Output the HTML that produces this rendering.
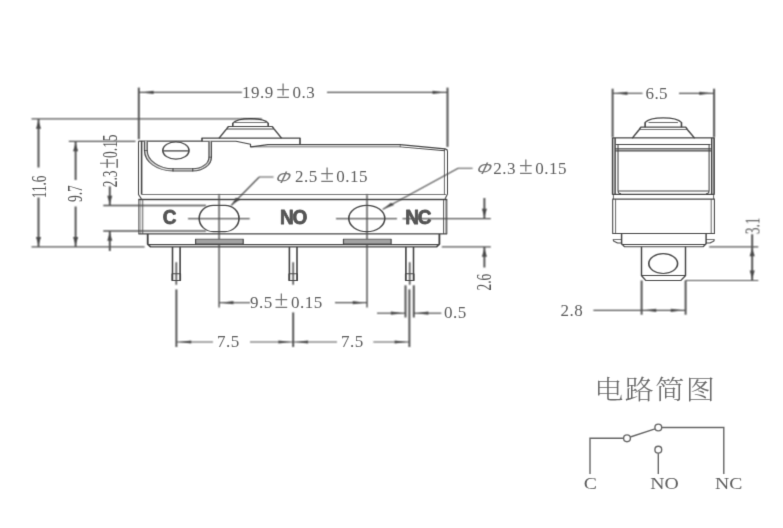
<!DOCTYPE html>
<html lang="zh">
<head>
<meta charset="utf-8">
<title>微动开关 外形尺寸 / 电路简图</title>
<style>
html,body{margin:0;padding:0;background:#fff;}
body{width:783px;height:528px;overflow:hidden;}
svg{display:block;}
</style>
</head>
<body>
<svg width="783" height="528" viewBox="0 0 783 528">
<defs>
<filter id="soft" x="0" y="0" width="783" height="528" filterUnits="userSpaceOnUse"><feConvolveMatrix order="3" kernelMatrix="1 2 1 2 4 2 1 2 1" divisor="16" edgeMode="none" preserveAlpha="false"/></filter>
<filter id="soft3" x="0" y="0" width="783" height="528" filterUnits="userSpaceOnUse"><feConvolveMatrix order="3" kernelMatrix="0 1 0 1 5 1 0 1 0" divisor="9" edgeMode="none" preserveAlpha="false"/></filter>
<filter id="soft2" x="0" y="0" width="783" height="528" filterUnits="userSpaceOnUse"><feConvolveMatrix order="3" kernelMatrix="0 1 0 1 6 1 0 1 0" divisor="10" edgeMode="none" preserveAlpha="false"/></filter>
</defs>
<rect width="783" height="528" fill="#fff"/>
<g filter="url(#soft)">
<g transform="scale(1.6,1)" stroke-linecap="butt" stroke-linejoin="round">
<line x1="86.75" y1="87.6" x2="86.75" y2="139.2" stroke="#525252" stroke-width="1.22"/>
<line x1="279.69" y1="87.6" x2="279.69" y2="146.9" stroke="#525252" stroke-width="1.22"/>
<line x1="86.88" y1="92.4" x2="151.25" y2="92.4" stroke="#525252" stroke-width="1.2"/>
<line x1="204.38" y1="92.4" x2="279.38" y2="92.4" stroke="#525252" stroke-width="1.2"/>
<polygon points="88.12,92.4 96.03,90.8 96.03,94" fill="#4a4a4a"/>
<polygon points="278.25,92.4 270.35,94 270.35,90.8" fill="#4a4a4a"/>
<line x1="19.69" y1="118.8" x2="163.75" y2="118.8" stroke="#525252" stroke-width="1.2"/>
<line x1="19.69" y1="246.9" x2="90.37" y2="246.9" stroke="#525252" stroke-width="1.2"/>
<line x1="24.06" y1="119" x2="24.06" y2="167.5" stroke="#525252" stroke-width="1.22"/>
<line x1="24.06" y1="197.5" x2="24.06" y2="247" stroke="#525252" stroke-width="1.22"/>
<polygon points="24.06,120.5 25.66,128.7 22.46,128.7" fill="#4a4a4a"/>
<polygon points="24.06,245.3 22.46,237.1 25.66,237.1" fill="#4a4a4a"/>
<line x1="43" y1="141.3" x2="84.69" y2="141.3" stroke="#525252" stroke-width="1.3"/>
<line x1="47.25" y1="141.3" x2="47.25" y2="180" stroke="#525252" stroke-width="1.22"/>
<line x1="47.25" y1="206.5" x2="47.25" y2="247" stroke="#525252" stroke-width="1.22"/>
<polygon points="47.25,143 48.85,151.2 45.65,151.2" fill="#4a4a4a"/>
<polygon points="47.25,245.3 45.65,237.1 48.85,237.1" fill="#4a4a4a"/>
<line x1="64.56" y1="205.5" x2="128.75" y2="205.5" stroke="#525252" stroke-width="1.3"/>
<line x1="64.56" y1="231" x2="128.75" y2="231" stroke="#525252" stroke-width="1.3"/>
<line x1="68.62" y1="186.4" x2="68.62" y2="205" stroke="#525252" stroke-width="1.22"/>
<line x1="68.62" y1="231" x2="68.62" y2="251" stroke="#525252" stroke-width="1.22"/>
<polygon points="68.62,204 67.03,195.8 70.22,195.8" fill="#4a4a4a"/>
<polygon points="68.62,232.5 70.22,240.7 67.03,240.7" fill="#4a4a4a"/>
<path d="M170.94,176.9 L162.06,176.9 L144.5,205.6" stroke="#525252" stroke-width="1.0" fill="none" />
<polygon points="144.5,205.5 147.38,197.66 150.12,199.32" fill="#4a4a4a"/>
<path d="M295.38,168.3 L286.19,168.3 L239.19,209.3" stroke="#525252" stroke-width="1.0" fill="none" />
<polygon points="239.19,209.3 244.3,202.69 246.41,205.1" fill="#4a4a4a"/>
<line x1="136.94" y1="194.5" x2="136.94" y2="307.6" stroke="#484848" stroke-width="0.85"/>
<line x1="229.38" y1="194.5" x2="229.38" y2="307.6" stroke="#484848" stroke-width="0.85"/>
<line x1="117.5" y1="218.6" x2="156.06" y2="218.6" stroke="#525252" stroke-width="1.2"/>
<line x1="210" y1="218.6" x2="248.12" y2="218.6" stroke="#525252" stroke-width="1.2"/>
<line x1="251.56" y1="218.6" x2="306.75" y2="218.6" stroke="#525252" stroke-width="1.2"/>
<line x1="276.12" y1="246.9" x2="306.75" y2="246.9" stroke="#525252" stroke-width="1.2"/>
<line x1="302.75" y1="198" x2="302.75" y2="218" stroke="#525252" stroke-width="1.22"/>
<line x1="302.75" y1="247" x2="302.75" y2="267.5" stroke="#525252" stroke-width="1.22"/>
<polygon points="302.75,217 301.15,208.8 304.35,208.8" fill="#4a4a4a"/>
<polygon points="302.75,248.5 304.35,256.7 301.15,256.7" fill="#4a4a4a"/>
<line x1="136.88" y1="302.7" x2="156.25" y2="302.7" stroke="#525252" stroke-width="1.2"/>
<line x1="209.38" y1="302.7" x2="229.38" y2="302.7" stroke="#525252" stroke-width="1.2"/>
<polygon points="138,302.7 145.9,301.1 145.9,304.3" fill="#4a4a4a"/>
<polygon points="228.37,302.7 220.47,304.3 220.47,301.1" fill="#4a4a4a"/>
<line x1="110.25" y1="289.4" x2="110.25" y2="347" stroke="#525252" stroke-width="1.22"/>
<line x1="183.25" y1="312.4" x2="183.25" y2="347" stroke="#525252" stroke-width="1.22"/>
<line x1="255.87" y1="289.4" x2="255.87" y2="347" stroke="#525252" stroke-width="1.22"/>
<line x1="110.19" y1="342" x2="133.12" y2="342" stroke="#525252" stroke-width="1.2"/>
<line x1="156.25" y1="342" x2="183.12" y2="342" stroke="#525252" stroke-width="1.2"/>
<line x1="183.25" y1="342" x2="210.62" y2="342" stroke="#525252" stroke-width="1.2"/>
<line x1="233.31" y1="342" x2="255.87" y2="342" stroke="#525252" stroke-width="1.2"/>
<polygon points="111.62,342 119.52,340.4 119.52,343.6" fill="#4a4a4a"/>
<polygon points="181.88,342 173.97,343.6 173.97,340.4" fill="#4a4a4a"/>
<polygon points="184.62,342 192.52,340.4 192.52,343.6" fill="#4a4a4a"/>
<polygon points="254.56,342 246.66,343.6 246.66,340.4" fill="#4a4a4a"/>
<line x1="253.44" y1="285.3" x2="253.44" y2="317.5" stroke="#525252" stroke-width="1.22"/>
<line x1="258.62" y1="285.3" x2="258.62" y2="317.5" stroke="#525252" stroke-width="1.22"/>
<line x1="235.62" y1="313.2" x2="253.44" y2="313.2" stroke="#525252" stroke-width="1.2"/>
<line x1="258.62" y1="313.2" x2="275.87" y2="313.2" stroke="#525252" stroke-width="1.2"/>
<polygon points="252.19,313.2 244.29,314.8 244.29,311.6" fill="#4a4a4a"/>
<polygon points="259.88,313.2 267.77,311.6 267.77,314.8" fill="#4a4a4a"/>
<line x1="110.19" y1="262.2" x2="110.19" y2="284.8" stroke="#525252" stroke-width="1.0"/>
<line x1="183.25" y1="262.2" x2="183.25" y2="284.8" stroke="#525252" stroke-width="1.0"/>
<line x1="256.06" y1="262.2" x2="256.06" y2="284.8" stroke="#525252" stroke-width="1.0"/>
<line x1="382.88" y1="88.7" x2="382.88" y2="137.4" stroke="#525252" stroke-width="1.22"/>
<line x1="446.31" y1="88.7" x2="446.31" y2="137.4" stroke="#525252" stroke-width="1.22"/>
<line x1="382.81" y1="93.3" x2="401.56" y2="93.3" stroke="#525252" stroke-width="1.2"/>
<line x1="424.38" y1="93.3" x2="446.25" y2="93.3" stroke="#525252" stroke-width="1.2"/>
<polygon points="384.25,93.3 392.15,91.7 392.15,94.9" fill="#4a4a4a"/>
<polygon points="444.94,93.3 437.04,94.9 437.04,91.7" fill="#4a4a4a"/>
<line x1="443.25" y1="246.8" x2="473.94" y2="246.8" stroke="#525252" stroke-width="1.2"/>
<line x1="428.44" y1="280.5" x2="473.94" y2="280.5" stroke="#525252" stroke-width="1.2"/>
<line x1="470.12" y1="234.3" x2="470.12" y2="280.3" stroke="#525252" stroke-width="1.22"/>
<polygon points="470.12,248 471.73,256.2 468.52,256.2" fill="#4a4a4a"/>
<polygon points="470.12,278.8 468.52,270.6 471.73,270.6" fill="#4a4a4a"/>
<line x1="401" y1="280.5" x2="401" y2="314.7" stroke="#525252" stroke-width="1.22"/>
<line x1="428.5" y1="280.5" x2="428.5" y2="314.7" stroke="#525252" stroke-width="1.22"/>
<line x1="370.87" y1="310.3" x2="428.5" y2="310.3" stroke="#525252" stroke-width="1.2"/>
<polygon points="402.25,310.3 410.15,308.7 410.15,311.9" fill="#4a4a4a"/>
<polygon points="427.12,310.3 419.22,311.9 419.22,308.7" fill="#4a4a4a"/>
</g>
</g>
<g filter="url(#soft3)">
<g transform="scale(1.35,1)" stroke-linecap="butt" stroke-linejoin="round">
<path d="M104.81,199 L102.59,194.5 L102.59,141.2" stroke="#474747" stroke-width="0.8" fill="none" />
<path d="M102.59,141.2 L149.63,141.2" stroke="#474747" stroke-width="1.2" fill="none" />
<path d="M104.89,141 L104.89,194.4" stroke="#474747" stroke-width="1.2" fill="none" />
<path d="M104.81,194.4 L330.37,194.4" stroke="#474747" stroke-width="0.85" fill="none" />
<path d="M149.63,141.2 L149.63,138.1 L222.22,138.1 L222.22,144.6" stroke="#474747" stroke-width="1.2" fill="none" />
<path d="M149.63,141.2 L174.81,141.2 L185.56,144.2 L185.56,146.9 L296.3,146.9 L329.63,150.7" stroke="#474747" stroke-width="0.9" fill="none" />
<path d="M185.56,146.9 L198.52,144.6 L296.3,144.6 L329.63,148.8 L331.48,150.2" stroke="#474747" stroke-width="1.2" fill="none" />
<line x1="296.44" y1="144.4" x2="296.44" y2="147.1" stroke="#474747" stroke-width="0.6"/>
<path d="M331.48,150.2 L331.48,194 L329.63,199" stroke="#474747" stroke-width="0.75" fill="none" />
<path d="M329.19,149 L329.19,194.4" stroke="#474747" stroke-width="0.7" fill="none" />
<path d="M108.07,141.3 L108.07,150.5 A20.07,19.4 0 0 0 128.15,169.9 L142.74,169.9 A12.96,12.7 0 0 0 155.7,157.2 L155.7,141.3" stroke="#dcdcdc" stroke-width="2.2" fill="none" />
<path d="M107.04,141.3 L107.04,150.5 A21.11,20.5 0 0 0 128.15,171 L142.74,171 A13.85,13.8 0 0 0 156.59,157.2 L156.59,141.3" stroke="#474747" stroke-width="0.95" fill="none" />
<path d="M109.04,141.3 L109.04,150.5 A19.11,18.3 0 0 0 128.15,168.8 L142.74,168.8 A12.07,11.6 0 0 0 154.81,157.2 L154.81,141.3" stroke="#474747" stroke-width="0.9" fill="none" />
<line x1="128.15" y1="168.6" x2="128.15" y2="171.2" stroke="#474747" stroke-width="0.9"/>
<line x1="142.74" y1="168.6" x2="142.74" y2="171.2" stroke="#474747" stroke-width="0.9"/>
<line x1="106.89" y1="150.5" x2="109.19" y2="150.5" stroke="#474747" stroke-width="0.7"/>
<line x1="154.67" y1="157.2" x2="156.74" y2="157.2" stroke="#474747" stroke-width="0.7"/>
<ellipse cx="130.3" cy="150.5" rx="9.7" ry="8.7" fill="none" stroke="#474747" stroke-width="1.2"/>
<line x1="120.89" y1="150.9" x2="139.7" y2="150.9" stroke="#474747" stroke-width="1.3"/>
<path d="M172.44,126.4 L172.44,123.2 C175.11,119 180.74,118.6 185.56,118.6 C190.37,118.6 196,119 198.67,123.2 L198.67,126.4" stroke="#474747" stroke-width="1.2" fill="none" />
<path d="M174.07,122.7 L197.04,122.7" stroke="#474747" stroke-width="0.8" fill="none" />
<path d="M162.22,138.2 L167.78,129 L169.19,126.5 L201.63,126.5 L203.04,129 L208.59,138.2" stroke="#474747" stroke-width="1.2" fill="none" />
<path d="M168,129 L202.81,129" stroke="#474747" stroke-width="0.9" fill="none" />
<line x1="102.52" y1="199.6" x2="331.26" y2="199.6" stroke="#474747" stroke-width="1.5"/>
<line x1="102.52" y1="233.8" x2="331.26" y2="233.8" stroke="#474747" stroke-width="1.3"/>
<line x1="102.89" y1="199.4" x2="102.89" y2="233.8" stroke="#474747" stroke-width="0.8"/>
<line x1="104.3" y1="199.4" x2="104.3" y2="233.8" stroke="#474747" stroke-width="0.45"/>
<line x1="105.78" y1="199.4" x2="105.78" y2="233.8" stroke="#474747" stroke-width="0.7"/>
<line x1="328.52" y1="199.4" x2="328.52" y2="233.8" stroke="#474747" stroke-width="0.7"/>
<line x1="329.85" y1="199.4" x2="329.85" y2="233.8" stroke="#474747" stroke-width="0.45"/>
<line x1="330.96" y1="199.4" x2="330.96" y2="233.8" stroke="#474747" stroke-width="0.8"/>
<path d="M109.41,233.9 L109.41,244 L111.48,246.9 L323.41,246.9 L325.48,244 L325.48,233.9" stroke="#474747" stroke-width="1.4" fill="none" />
<path d="M109.41,244.6 L325.48,244.6" stroke="#474747" stroke-width="1.3" fill="none" />
<rect x="144.89" y="239.1" width="35.26" height="4.9" fill="#a2a2a2" stroke="#474747" stroke-width="0.9"/>
<rect x="254.44" y="239.1" width="35.26" height="4.9" fill="#a2a2a2" stroke="#474747" stroke-width="0.9"/>
<rect x="147.56" y="205.3" width="29.48" height="26.3" rx="10.37" ry="13.15" fill="none" stroke="#474747" stroke-width="1.2"/>
<ellipse cx="271.7" cy="218.5" rx="13.33" ry="13.2" fill="none" stroke="#474747" stroke-width="1.2"/>
<path d="M127.78,246.9 L127.78,280.5 L133.41,280.5 L133.41,246.9" stroke="#474747" stroke-width="1.2" fill="none" />
<path d="M127.48,273.7 L133.7,273.7 L133.7,280.5 L127.48,280.5 Z" stroke="#474747" stroke-width="0.9" fill="none" />
<path d="M214.37,246.9 L214.37,280.5 L220,280.5 L220,246.9" stroke="#474747" stroke-width="1.2" fill="none" />
<path d="M214.07,273.7 L220.3,273.7 L220.3,280.5 L214.07,280.5 Z" stroke="#474747" stroke-width="0.9" fill="none" />
<path d="M300.67,246.9 L300.67,280.5 L306.3,280.5 L306.3,246.9" stroke="#474747" stroke-width="1.2" fill="none" />
<path d="M300.37,273.7 L306.59,273.7 L306.59,280.5 L300.37,280.5 Z" stroke="#474747" stroke-width="0.9" fill="none" />
<path d="M477.85,127.2 L477.85,122.5 C480.74,118.3 486.67,117.9 491.33,117.9 C496,117.9 501.93,118.3 504.81,122.5 L504.81,127.2" stroke="#474747" stroke-width="1.2" fill="none" />
<path d="M480.37,122.4 L502.22,122.4" stroke="#474747" stroke-width="0.8" fill="none" />
<path d="M468.3,138.2 L473.48,129.6 L474.67,127.2 L508,127.2 L509.19,129.6 L514.59,138.2" stroke="#474747" stroke-width="1.2" fill="none" />
<path d="M473.63,129.6 L509.04,129.6" stroke="#474747" stroke-width="0.9" fill="none" />
<path d="M453.78,137.8 L528.96,137.8 L528.96,194.3 L453.78,194.3 Z" stroke="#474747" stroke-width="1.2" fill="none" />
<path d="M455.63,138 L455.63,194.3" stroke="#474747" stroke-width="1.1" fill="none" />
<path d="M527.19,138 L527.19,194.3" stroke="#474747" stroke-width="1.1" fill="none" />
<path d="M456.3,144.5 L526.3,144.5" stroke="#474747" stroke-width="0.9" fill="none" />
<path d="M457.78,144.5 L457.78,191 Q457.78,193.7 460,193.7" stroke="#474747" stroke-width="0.8" fill="none" />
<path d="M525.26,144.5 L525.26,191 Q525.26,193.7 523.04,193.7" stroke="#474747" stroke-width="0.8" fill="none" />
<path d="M455.56,148.8 L527.26,148.8" stroke="#474747" stroke-width="1.2" fill="none" />
<path d="M455.56,150.8 L527.26,150.8" stroke="#474747" stroke-width="1.2" fill="none" />
<path d="M458.07,191 L525.04,191" stroke="#474747" stroke-width="0.9" fill="none" />
<line x1="454.37" y1="194.3" x2="454.37" y2="199.2" stroke="#474747" stroke-width="0.7"/>
<line x1="528.59" y1="194.3" x2="528.59" y2="199.2" stroke="#474747" stroke-width="0.7"/>
<line x1="453.56" y1="199.2" x2="529.56" y2="199.2" stroke="#474747" stroke-width="1.3"/>
<line x1="453.56" y1="233.5" x2="529.56" y2="233.5" stroke="#474747" stroke-width="1.2"/>
<line x1="453.85" y1="199.2" x2="453.85" y2="233.5" stroke="#474747" stroke-width="0.8"/>
<line x1="456" y1="199.2" x2="456" y2="233.5" stroke="#474747" stroke-width="0.7"/>
<line x1="526.81" y1="199.2" x2="526.81" y2="233.5" stroke="#474747" stroke-width="0.7"/>
<line x1="529.19" y1="199.2" x2="529.19" y2="233.5" stroke="#474747" stroke-width="0.8"/>
<path d="M460.44,233.5 L460.44,243.6 L462.59,246.8 L520.89,246.8 L523.04,243.6 L523.04,233.5" stroke="#474747" stroke-width="1.1" fill="none" />
<path d="M460.44,244.5 L523.04,244.5" stroke="#474747" stroke-width="1.0" fill="none" />
<path d="M460.44,239.6 L454.22,239.6 L454.67,241.2 L457.41,243 L460.44,243" stroke="#474747" stroke-width="0.9" fill="none" />
<path d="M523.04,239.6 L529.11,239.6 L528.67,241.2 L525.93,243 L523.04,243" stroke="#474747" stroke-width="0.9" fill="none" />
<path d="M475.19,246.8 L475.19,275.6 L478.37,280.5 L504.3,280.5 L507.78,275.6 L507.78,246.8" stroke="#474747" stroke-width="1.1" fill="none" />
<path d="M475.19,275.6 L507.78,275.6" stroke="#474747" stroke-width="1.0" fill="none" />
<ellipse cx="491.26" cy="263.6" rx="10.67" ry="9.9" fill="none" stroke="#474747" stroke-width="1.2"/>
</g>
</g>
<g filter="url(#soft3)" fill="none" stroke="#666" stroke-width="1.4">
<path d="M590,474 L590,438.3 L623.4,438.3"/>
<path d="M630.3,437 L655,428.8"/>
<path d="M661.8,427.5 L723.8,427.5 L723.8,474"/>
<path d="M658.3,453.2 L658.3,474"/>
<circle cx="627" cy="438.3" r="3.4"/>
<circle cx="658.3" cy="427.5" r="3.4"/>
<circle cx="658.3" cy="449.7" r="3.4"/>
</g>
<g filter="url(#soft2)">
<text y="98.2" font-family="'Liberation Serif','Noto Serif CJK SC',serif" font-size="17" fill="#5e5e5e" letter-spacing="0.5"><tspan x="242" dy="0">19.9</tspan><tspan x="276.3" dy="0" font-size="25" fill="#777" letter-spacing="0">±</tspan><tspan x="292.6" dy="0">0.3</tspan></text>
<text transform="translate(46.3,198.2) rotate(-90) scale(0.6,1)" font-family="'Liberation Serif','Noto Serif CJK SC',serif" font-size="22" fill="#555">11.6</text>
<text transform="translate(82,202) rotate(-90) scale(0.61,1)" font-family="'Liberation Serif','Noto Serif CJK SC',serif" font-size="22" fill="#555">9.7</text>
<text y="0" font-family="'Liberation Serif','Noto Serif CJK SC',serif" font-size="22" fill="#555" letter-spacing="0" transform="translate(117.2,187.2) rotate(-90) scale(0.61,1)"><tspan x="0" dy="0">2.3</tspan><tspan x="30.5" dy="0.8" font-size="31" fill="#777" letter-spacing="0">±</tspan><tspan x="48" dy="-0.8">0.15</tspan></text>
<text transform="translate(273.8,182.8) skewX(-25) scale(1.12,1)" font-family="'Liberation Sans','Noto Sans CJK SC',sans-serif" font-weight="normal" font-size="16.5" fill="#777">Φ</text>
<text y="181.8" font-family="'Liberation Serif','Noto Serif CJK SC',serif" font-size="17" fill="#5e5e5e" letter-spacing="0.5"><tspan x="295" dy="0">2.5</tspan><tspan x="320.2" dy="0" font-size="25" fill="#777" letter-spacing="0">±</tspan><tspan x="336.3" dy="0">0.15</tspan></text>
<text transform="translate(474.8,174.1) skewX(-25) scale(1.12,1)" font-family="'Liberation Sans','Noto Sans CJK SC',sans-serif" font-weight="normal" font-size="16.5" fill="#777">Φ</text>
<text y="173.5" font-family="'Liberation Serif','Noto Serif CJK SC',serif" font-size="17" fill="#5e5e5e" letter-spacing="0.5"><tspan x="493.2" dy="0">2.3</tspan><tspan x="519" dy="0" font-size="25" fill="#777" letter-spacing="0">±</tspan><tspan x="535.3" dy="0">0.15</tspan></text>
<text transform="translate(490.6,290.5) rotate(-90) scale(0.61,1)" font-family="'Liberation Serif','Noto Serif CJK SC',serif" font-size="22" fill="#555">2.6</text>
<text y="307.8" font-family="'Liberation Serif','Noto Serif CJK SC',serif" font-size="17" fill="#5e5e5e" letter-spacing="0.5"><tspan x="250" dy="0">9.5</tspan><tspan x="274.4" dy="0" font-size="25" fill="#777" letter-spacing="0">±</tspan><tspan x="291" dy="0">0.15</tspan></text>
<text x="217" y="347.4" font-family="'Liberation Serif','Noto Serif CJK SC',serif" font-size="17" font-weight="normal" text-anchor="start" fill="#5e5e5e" letter-spacing="0.5" >7.5</text>
<text x="341" y="347.4" font-family="'Liberation Serif','Noto Serif CJK SC',serif" font-size="17" font-weight="normal" text-anchor="start" fill="#5e5e5e" letter-spacing="0.5" >7.5</text>
<text x="444" y="318" font-family="'Liberation Serif','Noto Serif CJK SC',serif" font-size="17" font-weight="normal" text-anchor="start" fill="#5e5e5e" letter-spacing="0.5" >0.5</text>
<text transform="translate(169.6,223.8) scale(0.97,1)" font-family="'Liberation Sans','Noto Sans CJK SC',sans-serif" font-size="19.6" font-weight="bold" text-anchor="middle" fill="#555" stroke="#555" stroke-width="0.8" stroke-linejoin="round">C</text>
<text transform="translate(293.1,223.8) scale(0.97,1)" font-family="'Liberation Sans','Noto Sans CJK SC',sans-serif" font-size="19.6" font-weight="bold" text-anchor="middle" fill="#555" letter-spacing="-1.3" stroke="#555" stroke-width="0.8" stroke-linejoin="round">NO</text>
<text transform="translate(417.8,223.8) scale(0.97,1)" font-family="'Liberation Sans','Noto Sans CJK SC',sans-serif" font-size="19.6" font-weight="bold" text-anchor="middle" fill="#555" letter-spacing="-1.3" stroke="#555" stroke-width="0.8" stroke-linejoin="round">NC</text>
<text x="645.6" y="98.6" font-family="'Liberation Serif','Noto Serif CJK SC',serif" font-size="17" font-weight="normal" text-anchor="start" fill="#5e5e5e" letter-spacing="0.3" >6.5</text>
<text transform="translate(759.5,234.3) rotate(-90) scale(0.61,1)" font-family="'Liberation Serif','Noto Serif CJK SC',serif" font-size="22" fill="#555">3.1</text>
<text x="560.5" y="315.6" font-family="'Liberation Serif','Noto Serif CJK SC',serif" font-size="17" font-weight="normal" text-anchor="start" fill="#5e5e5e" letter-spacing="0.5" >2.8</text>
<text transform="translate(594.3,399.3) scale(1.1,1)" font-family="'Liberation Serif','Noto Serif CJK SC',serif" font-size="26.5" font-weight="300" text-anchor="start" fill="#6a6a6a" letter-spacing="1.2" >电路简图</text>
<text transform="translate(590.3,488.7) scale(1.16,1)" font-family="'Liberation Serif','Noto Serif CJK SC',serif" font-size="17" font-weight="normal" text-anchor="middle" fill="#5e5e5e" >C</text>
<text transform="translate(664.4,488.7) scale(1.16,1)" font-family="'Liberation Serif','Noto Serif CJK SC',serif" font-size="17" font-weight="normal" text-anchor="middle" fill="#5e5e5e" >NO</text>
<text transform="translate(728.7,488.7) scale(1.16,1)" font-family="'Liberation Serif','Noto Serif CJK SC',serif" font-size="17" font-weight="normal" text-anchor="middle" fill="#5e5e5e" >NC</text>
</g>
</svg>
</body>
</html>
